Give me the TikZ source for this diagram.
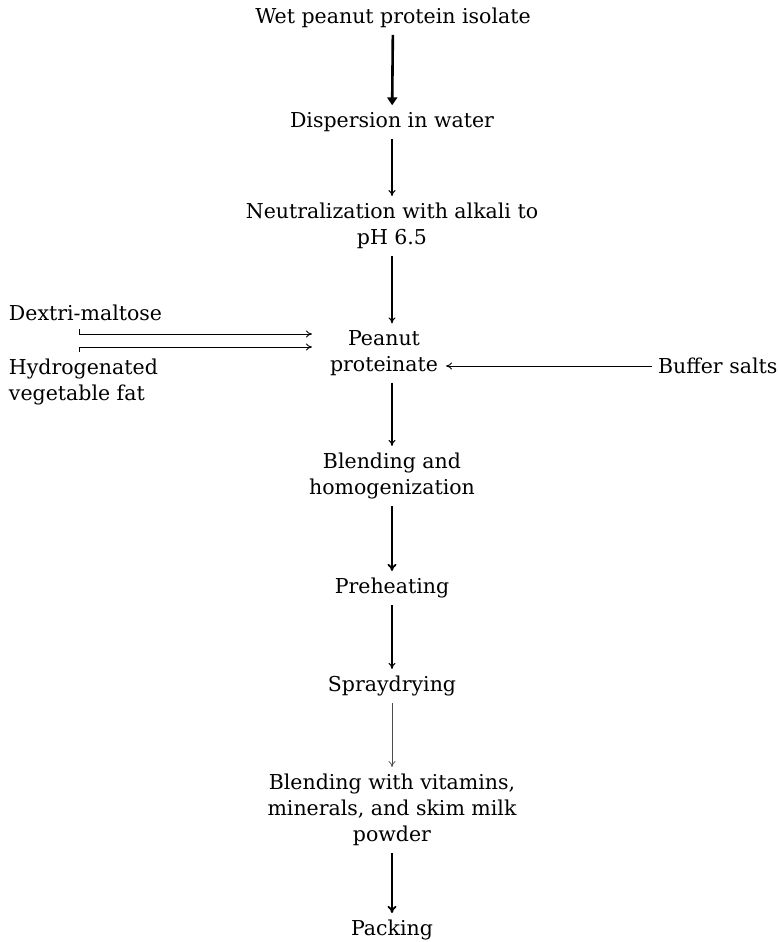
\documentclass[tikz,border=0pt]{standalone}
\usepackage{fontspec}
\setmainfont{DejaVu Serif}
\usetikzlibrary{arrows.meta}
\begin{document}
\begin{tikzpicture}[x=1pt,y=-1pt,
  every node/.style={font=\fontsize{20.5}{26}\selectfont, inner sep=0pt, outer sep=7pt, align=center},
  flow/.style={line width=1.1pt, -{To[length=6pt,width=7pt]}},
  heavy/.style={line width=2.6pt, -{Triangle[length=8pt,width=10pt]}},
  medium/.style={line width=1.8pt, -{To[length=7pt,width=9pt]}},
  faint/.style={line width=0.8pt, black!70, -{To[length=6pt,width=7pt]}}]
\useasboundingbox (0,0) rectangle (778,942);

% main process column
\node (wet)   at (393,18)  {Wet peanut protein isolate};
\node (disp)  at (392,122) {Dispersion in water};
\node (neut)  at (392,226) {Neutralization with alkali to\\pH 6.5};
\node (pp)    at (384,353) {Peanut\\proteinate};
\node (blend) at (392,476) {Blending and\\homogenization};
\node (pre)   at (392,588) {Preheating};
\node (spray) at (392,686) {Spraydrying};
\node (vit)   at (392,810) {Blending with vitamins,\\minerals, and skim milk\\powder};
\node (pack)  at (392,930) {Packing};

% side inputs
\node[anchor=west, outer sep=0pt] (dex)   at (9,313) {Dextri-maltose};
\node[anchor=west, outer sep=0pt, align=left] (hyd) at (9,382) {Hydrogenated\\vegetable fat};
\node[anchor=west, outer sep=0pt] (buf)   at (658,366) {Buffer salts};

\coordinate (dcorner) at (79,329);
\coordinate (dturn)   at (79,334);
\coordinate (hcorner) at (79,352);
\coordinate (hturn)   at (79,347);

% connectors
\draw[heavy]  (wet)   -- (disp);
\draw[flow]   (disp)  -- (neut);
\draw[flow]   (neut)  -- (pp.north -| neut);
\draw[flow]   (pp.south -| blend) -- (blend);
\draw[medium] (blend) -- (pre);
\draw[flow]   (pre)   -- (spray);
\draw[faint]  (spray) -- (vit);
\draw[medium] (vit)   -- (pack);

\draw[flow, line width=0.9pt, shorten >=11pt] (dcorner) -- (dturn) -- (dturn -| pp.west);
\draw[flow, line width=0.9pt, shorten >=11pt] (hcorner) -- (hturn) -- (hturn -| pp.west);
\draw[flow, line width=0.9pt, shorten >=1pt] (buf.west) ++(-6,0) coordinate (bstart)
  (bstart) -- (bstart -| pp.east);
\end{tikzpicture}
\end{document}
